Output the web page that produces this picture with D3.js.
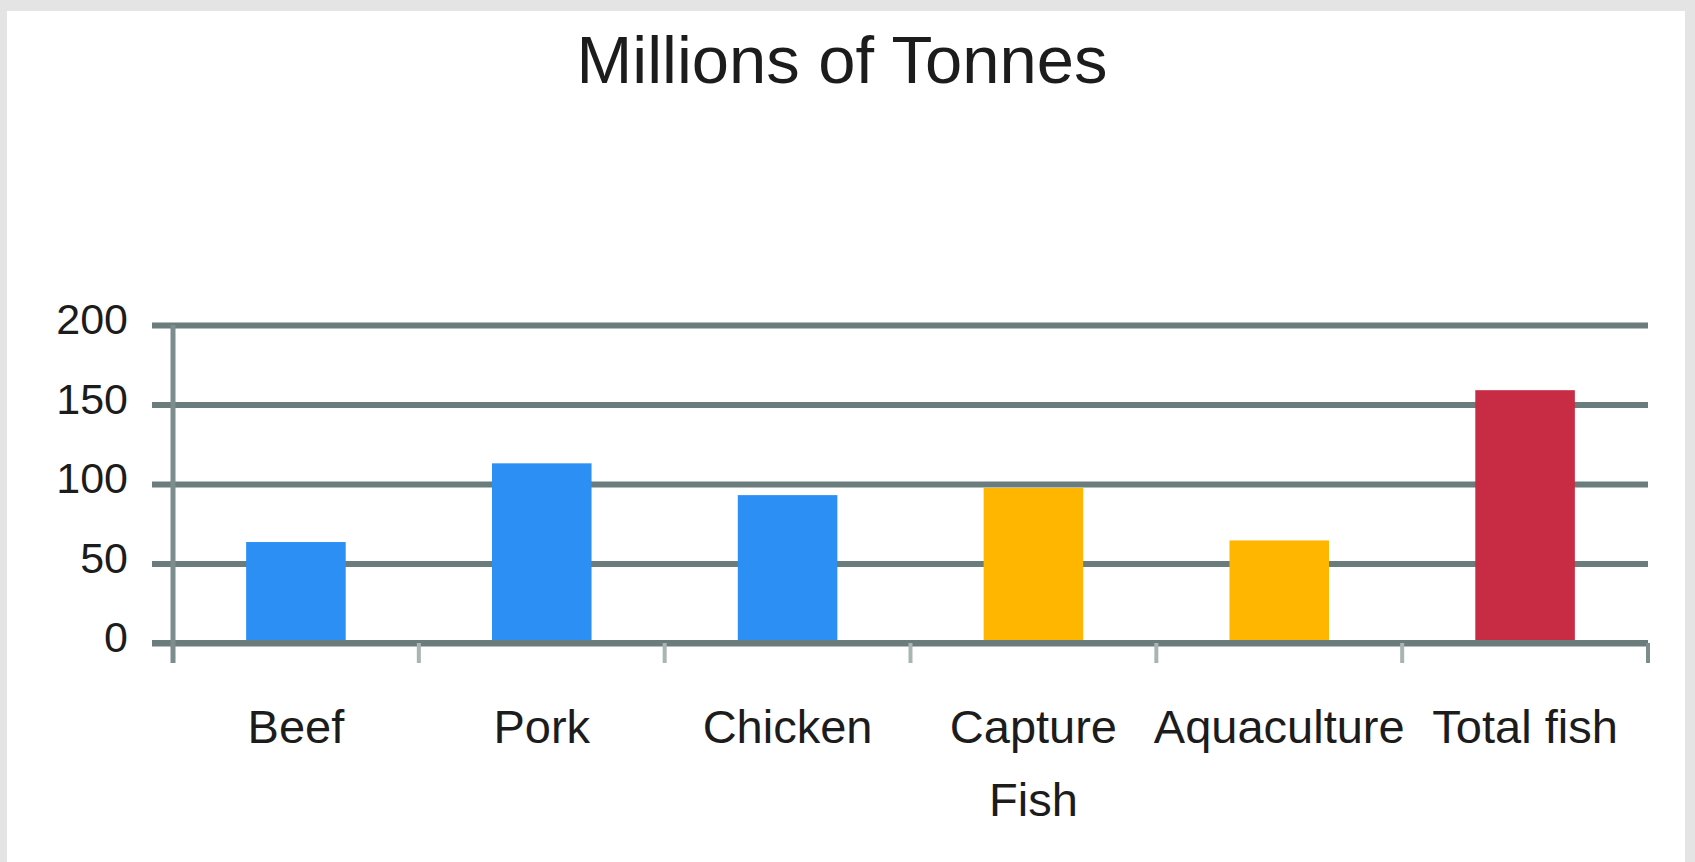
<!DOCTYPE html>
<html>
<head>
<meta charset="utf-8">
<script src="https://cdn.jsdelivr.net/npm/d3@7"></script>
<style>
  html, body { margin: 0; padding: 0; background: #e4e4e4; }
  svg { display: block; }
  text { font-family: "Liberation Sans", Arial, sans-serif; fill: #1c1c1c; }
</style>
</head>
<body>
<svg id="chart" width="1695" height="862"></svg>
<script>
// Production by food source, millions of tonnes
const categories = ["Beef", "Pork", "Chicken", "Capture Fish", "Aquaculture", "Total fish"];
const values = [63.5, 113, 93, 97.5, 64.5, 159];
const barColors = ["#2b8ff4", "#2b8ff4", "#2b8ff4", "#ffb600", "#ffb600", "#c82c45"];
const yTicks = [0, 50, 100, 150, 200];
const chartTitle = "Millions of Tonnes";

const svg = d3.select("#chart");

// white chart panel
svg.append("rect")
  .attr("x", 7).attr("y", 11)
  .attr("width", 1678).attr("height", 851)
  .attr("fill", "#ffffff");

const plot = { left: 173, right: 1648, top: 325, bottom: 643 };
const axisColor = "#6b7c7c";

const x = d3.scaleBand()
  .domain(categories)
  .range([plot.left, plot.right])
  .padding(0);

const y = d3.scaleLinear()
  .domain([0, 200])
  .range([plot.bottom, plot.top]);

// title
svg.append("text")
  .attr("x", 842)
  .attr("y", 83)
  .attr("text-anchor", "middle")
  .attr("font-size", 67)
  .attr("textLength", 531)
  .attr("lengthAdjust", "spacingAndGlyphs")
  .text(chartTitle);

// horizontal gridlines (extending left as tick marks)
const yAxis = d3.axisLeft(y)
  .tickValues(yTicks)
  .tickSize(-(plot.right - plot.left))
  .tickSizeOuter(0)
  .tickFormat("");

const gy = svg.append("g")
  .attr("transform", `translate(${plot.left},0)`)
  .call(yAxis);
gy.select(".domain").remove();
gy.selectAll(".tick line")
  .attr("x1", -21)
  .attr("stroke", axisColor)
  .attr("stroke-width", 6);

// y tick labels
svg.append("g")
  .selectAll("text")
  .data(yTicks)
  .join("text")
  .attr("x", 128)
  .attr("y", d => y(d) + 9)
  .attr("text-anchor", "end")
  .attr("font-size", 43)
  .text(d => d);

// bars
const barW = x.bandwidth() * 0.405;
svg.append("g")
  .selectAll("rect")
  .data(categories)
  .join("rect")
  .attr("x", d => x(d) + x.bandwidth() / 2 - barW / 2)
  .attr("y", (d, i) => y(values[i]))
  .attr("width", barW)
  .attr("height", (d, i) => y(0) - y(values[i]))
  .attr("fill", (d, i) => barColors[i]);

// x axis baseline and tick marks at category boundaries
const xAxis = d3.axisBottom(x).tickSize(0).tickFormat("");
const gx = svg.append("g")
  .attr("transform", `translate(0,${plot.bottom})`)
  .call(xAxis);
gx.select(".domain").remove();
gx.selectAll(".tick").remove();

gx.append("line")
  .attr("x1", plot.left - 21).attr("x2", plot.right)
  .attr("y1", 0).attr("y2", 0)
  .attr("stroke", axisColor).attr("stroke-width", 6);

const boundaries = categories.map(c => x(c)).concat([plot.right]);
gx.selectAll("line.boundary")
  .data(boundaries)
  .join("line")
  .attr("class", "boundary")
  .attr("x1", d => d).attr("x2", d => d)
  .attr("y1", 0).attr("y2", 20)
  .attr("stroke", (d, i) => (i === 0 || i === boundaries.length - 1) ? "#7d8c8c" : "#a9b4b4")
  .attr("stroke-width", 4);

// y axis line
svg.append("line")
  .attr("x1", plot.left).attr("x2", plot.left)
  .attr("y1", plot.top).attr("y2", plot.bottom + 20)
  .attr("stroke", "#7d8c8c").attr("stroke-width", 5);

// category labels, wrapped to the band width
const labels = svg.append("g");
categories.forEach(cat => {
  const t = labels.append("text")
    .attr("x", x(cat) + x.bandwidth() / 2)
    .attr("y", 743)
    .attr("text-anchor", "middle")
    .attr("font-size", 47);
  const words = cat.split(" ");
  let line = [];
  let lineNo = 0;
  let tspan = t.append("tspan").attr("x", x(cat) + x.bandwidth() / 2).attr("dy", 0);
  words.forEach(w => {
    line.push(w);
    tspan.text(line.join(" "));
    if (tspan.node().getComputedTextLength() > x.bandwidth() && line.length > 1) {
      line.pop();
      tspan.text(line.join(" "));
      line = [w];
      lineNo++;
      tspan = t.append("tspan")
        .attr("x", x(cat) + x.bandwidth() / 2)
        .attr("dy", 73)
        .text(w);
    }
  });
});
</script>
</body>
</html>
